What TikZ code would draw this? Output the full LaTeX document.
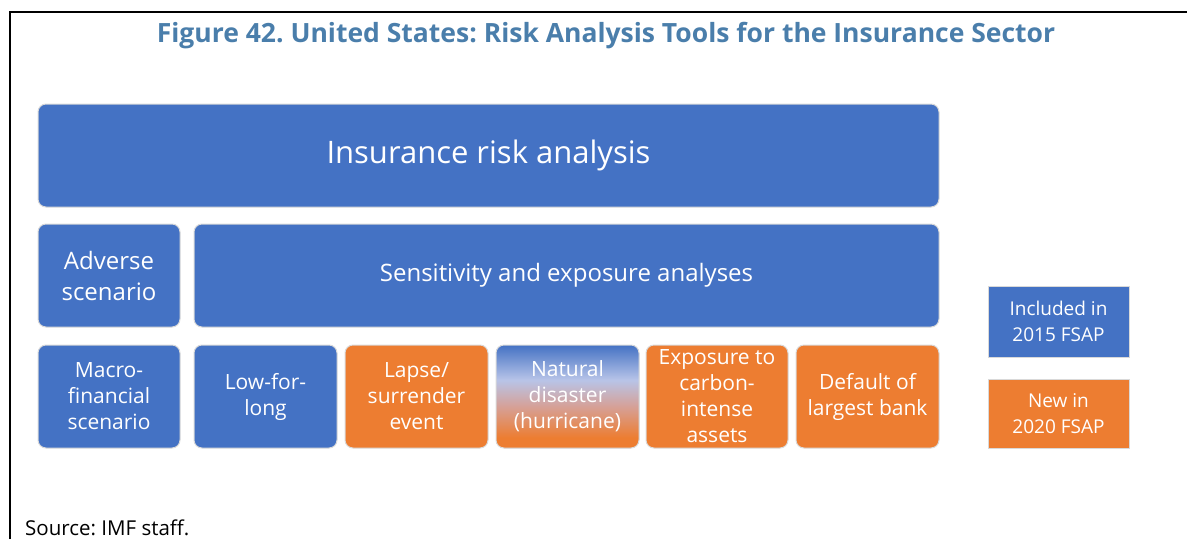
\documentclass[tikz,border=0pt]{standalone}
\usepackage{fontspec}
\setmainfont{Open Sans}
\usepackage{tikz}
\usetikzlibrary{positioning}
\definecolor{offblue}{RGB}{68,114,196}
\definecolor{offorange}{RGB}{237,125,49}
\definecolor{titleblue}{RGB}{74,126,171}
\definecolor{midlav}{RGB}{184,196,232}
\definecolor{midpeach}{RGB}{214,160,150}
\pgfdeclareverticalshading{natshade}{100bp}{color(0bp)=(offorange); color(30bp)=(offorange); color(45bp)=(midpeach); color(58bp)=(midlav); color(75bp)=(offblue); color(100bp)=(offblue)}
\frenchspacing

\begin{document}
\begin{tikzpicture}[x=1pt, y=-1pt,
  tile/.style={draw=black!15, line width=1pt, rounded corners=8pt, fill=offblue, text=white, align=center, inner sep=2pt},
  small/.style={tile, minimum height=103pt, font=\fontsize{21}{26}\selectfont},
  key/.style={draw=black!15, line width=0.6pt, text=white, align=center, minimum width=141pt, font=\fontsize{19}{26}\selectfont}]
\useasboundingbox (0,0) rectangle (1187,539);
% ---------------- frame and title ----------------
\draw[line width=2pt] (10,539) -- (10,12) -- (1187,12);
\node[font=\fontsize{26.5}{32}\selectfont\bfseries, text=titleblue] (title) at (606,36) {Figure 42. United States: Risk Analysis Tools for the Insurance Sector};
% ---------------- upper levels ----------------
\node[tile, minimum width=901pt, minimum height=103pt, font=\fontsize{31}{36}\selectfont] (ira) at (488.5,155.5) {Insurance risk analysis};
\node[tile, minimum width=142pt, minimum height=103pt, font=\fontsize{24}{31}\selectfont] (adv) at (109,275.5) {Adverse\\scenario};
\node[tile, minimum width=745pt, minimum height=103pt, font=\fontsize{24}{31}\selectfont] (sens) at (566.5,275.5) {Sensitivity and exposure analyses};
% ---------------- individual tools ----------------
\node[small, minimum width=142pt] (macro) at (109,396.5) {Macro-\\financial\\scenario};
\node[small, minimum width=143pt] (lfl) at (265.5,396.5) {Low-for-\\long};
\node[small, minimum width=143pt, fill=offorange] (lapse) at (416.5,396.5) {Lapse/\\surrender\\event};
\node[small, minimum width=143pt, shading=natshade] (nat) at (567.5,396.5) {Natural\\disaster\\(hurricane)};
\node[small, minimum width=142pt, fill=offorange] (carb) at (717,396.5) {Exposure to\\carbon-\\intense\\assets};
\node[small, minimum width=143pt, fill=offorange] (bank) at (867.5,396.5) {Default of\\largest bank};
% ---------------- legend ----------------
\node[key, fill=offblue, minimum height=71pt] (old) at (1058.5,321.5) {Included in\\2015 FSAP};
\node[key, fill=offorange, minimum height=69pt] (new) at (1058.5,413.5) {New in\\2020 FSAP};
% source
\node[anchor=base west, inner sep=0pt, font=\fontsize{20.5}{24}\selectfont] (src) at (25,535) {Source: IMF staff.};
\end{tikzpicture}
\end{document}
